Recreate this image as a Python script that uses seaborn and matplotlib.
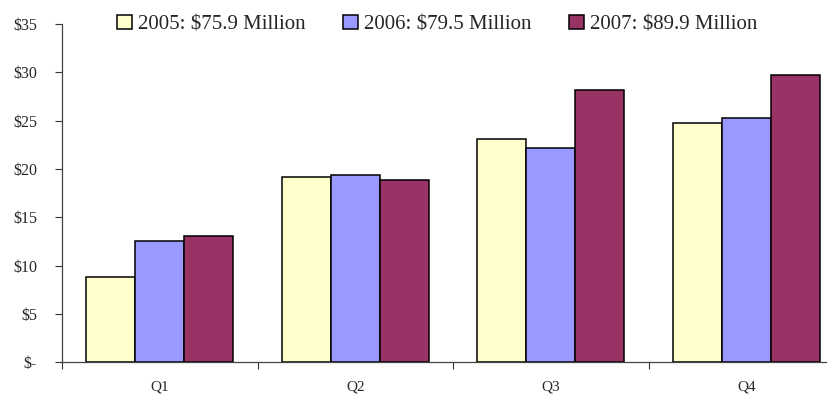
import matplotlib
matplotlib.use("Agg")
import matplotlib.pyplot as plt
import seaborn as sns
import pandas as pd
from matplotlib.ticker import FixedLocator

quarters = ["Q1", "Q2", "Q3", "Q4"]
series_labels = ["2005: $75.9 Million", "2006: $79.5 Million", "2007: $89.9 Million"]
values_2005 = [8.8, 19.2, 23.1, 24.8]
values_2006 = [12.6, 19.4, 22.2, 25.3]
values_2007 = [13.1, 18.9, 28.2, 29.7]
y_ticks = [0, 5, 10, 15, 20, 25, 30, 35]
y_tick_labels = ["$-", "$5", "$10", "$15", "$20", "$25", "$30", "$35"]

colors = ["#FFFFCC", "#9999FF", "#993366"]

rows = []
for label, vals in zip(series_labels, [values_2005, values_2006, values_2007]):
    for q, v in zip(quarters, vals):
        rows.append({"Quarter": q, "Year": label, "Revenue": v})
df = pd.DataFrame(rows)

sns.set_theme(style="white")
plt.rcParams["font.family"] = ["Liberation Serif", "DejaVu Serif"]

fig = plt.figure(figsize=(8.28, 3.97), dpi=100)
ax = fig.add_axes([62 / 828, 1 - 362.3 / 397, 782 / 828, 338.3 / 397])

sns.barplot(data=df, x="Quarter", y="Revenue", hue="Year", order=quarters,
            hue_order=series_labels, palette=colors, saturation=1, width=0.75,
            gap=0, edgecolor="black", linewidth=1.1, ax=ax, legend=True)

ax.set_xlim(-0.5, 3.5)
ax.set_ylim(0, 35)
ax.set_xlabel("")
ax.set_ylabel("")

ax.set_yticks(y_ticks)
ax.set_yticklabels(y_tick_labels, fontsize=11.5)
ax.tick_params(axis="y", length=5, width=0.8, color="#333333", direction="out",
               left=True, pad=13)

ax.set_xticks(range(len(quarters)))
ax.set_xticklabels(quarters, fontsize=11)
ax.tick_params(axis="x", which="major", length=0, pad=13)
ax.xaxis.set_minor_locator(FixedLocator([-0.5, 0.5, 1.5, 2.5, 3.5]))
ax.tick_params(axis="x", which="minor", length=5, width=0.8, color="#333333",
               direction="out", bottom=True)

for side in ["top", "right"]:
    ax.spines[side].set_visible(False)
for side in ["left", "bottom"]:
    ax.spines[side].set_color("#444444")
    ax.spines[side].set_linewidth(0.9)

handles, labels = ax.get_legend_handles_labels()
ax.legend_.remove()
fig.legend(handles, labels, loc="upper center", bbox_to_anchor=(0.528, 1.0),
           ncol=3, frameon=False, fontsize=15, handlelength=0.7,
           handleheight=0.7, handletextpad=0.3, columnspacing=1.8,
           borderaxespad=0.3)

fig.savefig("out.png", dpi=100, facecolor="white")
